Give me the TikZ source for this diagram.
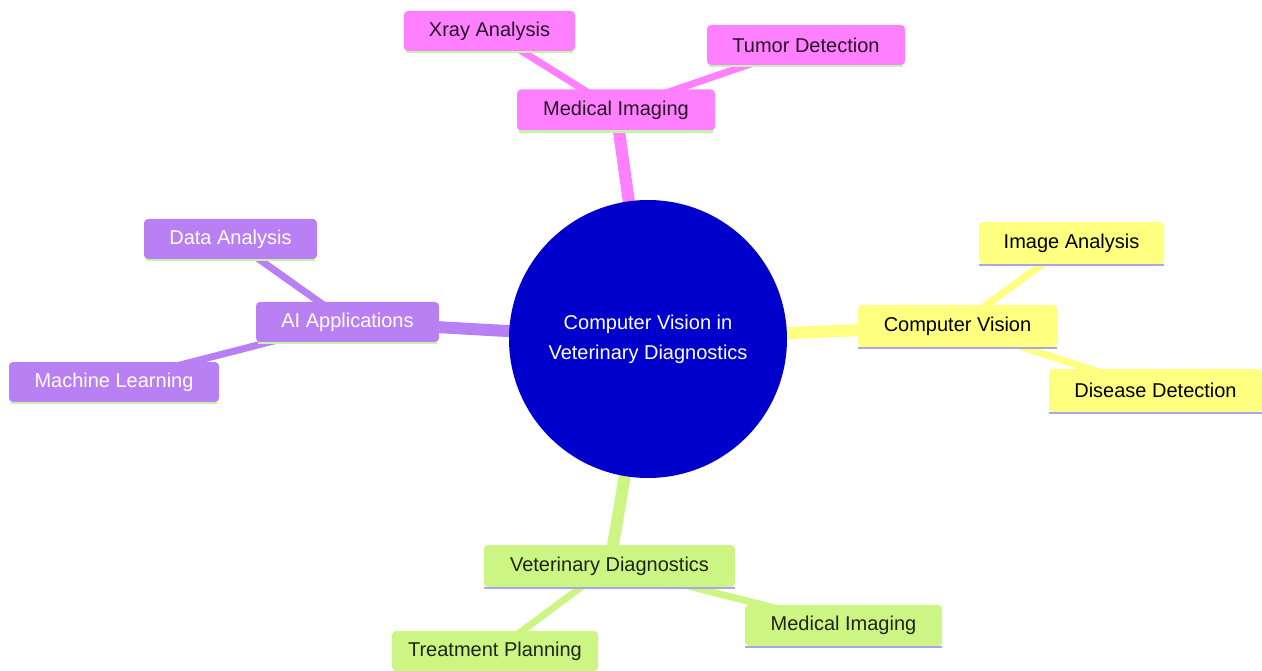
\documentclass[tikz,border=0pt]{standalone}
\usepackage{fontspec}
\setmainfont{Liberation Sans}
\usetikzlibrary{backgrounds}
\definecolor{pinkc}{HTML}{FF80FF}
\definecolor{yelc}{HTML}{FFFF80}
\definecolor{purc}{HTML}{B880F2}
\definecolor{grnc}{HTML}{CDF584}
\definecolor{rootc}{HTML}{0000CD}
\definecolor{lavc}{HTML}{A8A8E8}
\definecolor{lgrc}{HTML}{C8F0B0}
\begin{document}
\begin{tikzpicture}[x=1pt,y=-1pt,
  box/.style={rectangle,rounded corners=4pt,inner sep=0pt,font=\fontsize{20}{23}\selectfont},
  pinkbox/.style={box,fill=pinkc,text=black!85!pinkc},
  yelbox/.style={box,fill=yelc,text=black},
  purbox/.style={box,fill=purc,text=white},
  grnbox/.style={box,fill=grnc,text=black!85!grnc},
  trunk/.style={line width=12pt,line cap=round},
  twig/.style={line width=7pt},
  ul/.style={line width=2.5pt}]
\useasboundingbox (0,0) rectangle (1262,671);
\node[circle,fill=rootc,minimum size=278pt,inner sep=0pt,text=white,align=center,font=\fontsize{20}{30}\selectfont] (cen) at (648,339) {Computer Vision in\\Veterinary Diagnostics};
% pink
\node[pinkbox,minimum width=198pt,minimum height=41pt] (mi) at (616,110) {Medical Imaging};
\node[pinkbox,minimum width=171pt,minimum height=40pt] (xr) at (489.5,31) {Xray Analysis};
\node[pinkbox,minimum width=198pt,minimum height=40pt] (tu) at (806,45) {Tumor Detection};
% yellow
\node[yelbox,minimum width=199pt,minimum height=42pt] (cv) at (957.5,326) {Computer Vision};
\node[yelbox,minimum width=185pt,minimum height=42pt] (ia) at (1071.5,243) {Image Analysis};
\node[yelbox,minimum width=213pt,minimum height=43pt] (dd) at (1155.5,390.5) {Disease Detection};
% purple
\node[purbox,minimum width=183pt,minimum height=40pt] (ai) at (347.5,322) {AI Applications};
\node[purbox,minimum width=173pt,minimum height=40pt] (da) at (230.5,239) {Data Analysis};
\node[purbox,minimum width=210pt,minimum height=40pt] (ml) at (114,382) {Machine Learning};
% green
\node[grnbox,minimum width=251pt,minimum height=42pt] (vd) at (609.5,566) {Veterinary Diagnostics};
\node[grnbox,minimum width=206pt,minimum height=40pt] (tp) at (495,651) {Treatment Planning};
\node[grnbox,minimum width=197pt,minimum height=41pt] (mb) at (843.5,625.5) {Medical Imaging};
% underlines
\foreach \n in {mi,xr,tu,ai,da,ml}{
  \draw[ul,lgrc] ([xshift=2pt,yshift=-1pt]\n.south west) -- ([xshift=-2pt,yshift=-1pt]\n.south east);}
\foreach \n in {cv,ia,dd,vd,tp,mb}{
  \draw[ul,lavc] ([yshift=-1pt]\n.south west) -- ([yshift=-1pt]\n.south east);}
% connectors behind nodes
\begin{scope}[on background layer]
\draw[trunk,pinkc] (cen.center) -- (mi.center);
\draw[twig,pinkc] (mi.center) -- (xr.center);
\draw[twig,pinkc] (mi.center) -- (tu.center);
\draw[trunk,yelc] (cen.center) -- (cv.center);
\draw[twig,yelc] (cv.center) -- (ia.center);
\draw[twig,yelc] (cv.center) -- (dd.center);
\draw[trunk,purc] (cen.center) -- (ai.center);
\draw[twig,purc] (ai.center) -- (da.center);
\draw[twig,purc] (ai.center) -- (ml.center);
\draw[trunk,grnc] (cen.center) -- (vd.center);
\draw[twig,grnc] (vd.center) -- (tp.center);
\draw[twig,grnc] (vd.center) -- (mb.center);
\end{scope}
\end{tikzpicture}
\end{document}
